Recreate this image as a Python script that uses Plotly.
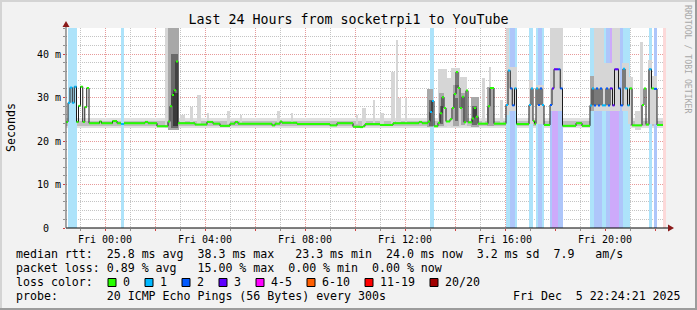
import plotly.graph_objects as go

# ---------------------------------------------------------------- data
title_text = "Last 24 Hours from socketrpi1 to YouTube"
y_axis_title = "Seconds"
watermark = "RRDTOOL / TOBI OETIKER"

x_start, x_end = -1.56, 22.44          # hours relative to Fri 00:00
y_top = 46.0                            # milliseconds

tick_hours = [0, 4, 8, 12, 16, 20]
tick_labels = ["Fri 00:00", "Fri 04:00", "Fri 08:00", "Fri 12:00", "Fri 16:00", "Fri 20:00"]
y_tick_values = [0, 10, 20, 30, 40]
y_tick_labels = [" 0  ", "10 m", "20 m", "30 m", "40 m"]

loss_labels = ["0", "1", "2", "3", "4-5", "6-10", "11-19", "20/20"]
loss_colors = ["#26ff00", "#00b8ff", "#0059ff", "#5e00ff", "#ff00ff", "#ff5e00", "#ff0000", "#a10000"]
band_colors = ["#ffffff", "#ade3fa", "#aec6fa", "#cdaafa", "#fab0fa", "#fac8a8", "#fab0b0", "#fcd9d9"]

# median rtt steps: start hour, median (ms), loss class index
step_start = [-1.56, -1.48, -1.40, -1.31, -1.23, -1.14, -1.06, -0.98, -0.89, -0.81,
              -0.73, -0.64, -0.22, -0.14, 0.30, 0.48, 0.64, 0.76, 1.60, 1.72,
              2.08, 2.52, 2.60, 2.68, 2.76, 2.84, 2.92, 3.60, 4.08, 4.32,
              4.60, 5.00, 5.20, 5.32, 6.68, 6.80, 7.00, 7.08, 7.68, 9.00,
              9.28, 9.92, 10.20, 10.32, 10.40, 11.00, 11.52, 12.56, 12.68, 12.92,
              13.00, 13.08, 13.16, 13.32, 13.40, 13.48, 13.56, 13.64, 13.80, 13.88,
              13.96, 14.04, 14.12, 14.20, 14.28, 14.36, 14.44, 14.52, 14.68, 14.76,
              14.84, 14.92, 15.32, 15.40, 15.56, 16.04, 16.12, 16.21, 16.29, 16.38,
              16.46, 16.96, 17.04, 17.12, 17.18, 17.24, 17.32, 17.40, 17.48, 17.56,
              17.80, 17.88, 17.96, 18.13, 18.21, 18.30, 18.84, 19.08, 19.40, 19.48,
              19.56, 19.64, 19.72, 19.80, 19.88, 20.04, 20.12, 20.20, 20.30, 20.38,
              20.54, 20.62, 20.72, 20.80, 20.90, 20.98, 21.08, 21.48, 21.56, 21.64,
              21.76, 21.86, 21.96, 22.08, 22.32]
step_median = [24.4, 28.8, 32.3, 28.8, 32.5, 24.4, 28.1, 32.5, 24.4, 27.8,
               32.2, 24.1, 24.5, 24.1, 24.6, 24.1, 23.9, 24.1, 24.4, 24.1,
               23.4, 24.5, 28.0, 30.6, 31.7, 38.3, 24.1, 23.8, 24.4, 24.0,
               23.5, 24.0, 24.4, 24.0, 23.6, 24.0, 24.5, 24.2, 23.9, 23.6,
               24.1, 23.3, 23.2, 23.4, 23.9, 23.7, 24.1, 24.4, 24.1, 24.5,
               26.7, 29.2, 23.4, 24.2, 26.4, 30.1, 27.6, 24.5, 25.0, 27.6,
               30.8, 35.9, 32.2, 27.6, 30.2, 24.3, 31.6, 24.3, 25.2, 27.6,
               25.6, 24.0, 28.0, 32.2, 24.0, 28.3, 36.2, 32.1, 28.2, 32.1,
               23.9, 28.3, 32.1, 24.6, 24.0, 32.1, 28.3, 32.1, 28.3, 23.7,
               28.3, 32.1, 36.5, 36.5, 32.1, 23.5, 24.1, 23.5, 28.2, 32.1,
               28.2, 32.1, 28.2, 32.1, 28.2, 32.1, 28.2, 32.1, 28.2, 36.5,
               32.1, 28.2, 36.6, 32.1, 28.2, 32.1, 23.6, 28.3, 32.1, 23.8,
               36.5, 32.1, 32.0, 23.7, None]
step_loss = [0, 1, 1, 1, 1, 0, 0, 0, 0, 0,
             0, 0, 0, 0, 0, 0, 1, 0, 0, 0,
             0, 0, 0, 0, 0, 0, 0, 0, 0, 0,
             0, 0, 0, 0, 0, 0, 0, 0, 0, 0,
             0, 0, 0, 0, 0, 0, 0, 0, 0, 0,
             1, 1, 0, 0, 0, 0, 0, 0, 0, 0,
             0, 0, 0, 0, 0, 0, 0, 0, 0, 0,
             0, 0, 0, 0, 0, 1, 1, 2, 2, 1,
             0, 1, 1, 0, 0, 1, 2, 2, 1, 0,
             2, 3, 3, 2, 2, 0, 0, 0, 1, 1,
             2, 2, 2, 2, 1, 2, 2, 3, 3, 3,
             2, 2, 1, 1, 1, 0, 0, 0, 0, 0,
             1, 0, 2, 0, 7]

# background haze of the ping distribution around the baseline (ms)
haze_outer = (23.0, 25.2)
haze_inner = (23.4, 24.5)

# smoke (spread of the 20 pings): start hour, end hour, low ms, high ms, shade index
smoke_start = [2.40, 2.52, 2.64, 2.72, 3.00, 3.40, 3.68, 4.08, 4.88, 5.40,
               6.88, 7.44, 10.04, 10.28, 10.72, 11.00, 11.44, 11.64, 11.72, 12.00,
               12.88, 12.96, 13.32, 13.36, 13.40, 13.68, 13.84, 13.92, 14.00, 14.20,
               14.24, 14.64, 14.68, 15.08, 15.28, 15.36, 15.80,
               16.04, 16.16, 16.96, 17.24, 17.80, 19.40, 19.56, 19.96, 20.28,
               20.68, 20.92, 21.20, 21.40, 21.72, 21.88]
smoke_end = [2.52, 2.96, 2.92, 2.92, 3.20, 3.52, 3.84, 4.16, 5.00, 5.48,
             7.00, 7.52, 10.12, 10.44, 10.80, 11.16, 11.60, 11.72, 11.84, 12.08,
             13.12, 13.12, 13.68, 13.56, 13.52, 13.84, 14.20, 14.16, 14.12, 14.48,
             14.40, 14.96, 14.88, 15.20, 15.56, 15.44, 15.92,
             16.16, 16.46, 17.12, 17.56, 18.30, 19.56, 19.96, 20.28, 20.60,
             20.96, 21.12, 21.44, 21.52, 21.88, 22.08]
smoke_low = [23.0, 22.5, 23.0, 23.5, 24.0, 24.0, 24.0, 24.0, 24.0, 24.0,
             24.0, 24.0, 24.0, 23.5, 24.0, 24.0, 24.0, 24.0, 24.0, 24.0,
             23.2, 23.5, 23.2, 23.5, 24.0, 23.5, 23.2, 23.5, 24.5, 23.5,
             23.8, 23.2, 23.8, 24.0, 23.5, 24.0, 24.0,
             26.0, 27.0, 24.0, 24.0, 27.0, 27.0, 27.0, 27.0, 27.0,
             27.0, 24.0, 22.5, 24.0, 24.0, 24.0]
smoke_high = [46.0, 46.0, 40.0, 31.0, 26.0, 27.8, 30.6, 26.4, 27.0, 25.9,
              27.0, 26.5, 25.9, 27.6, 29.4, 26.5, 35.9, 43.2, 30.0, 29.9,
              32.0, 29.5, 36.5, 31.0, 28.0, 34.5, 36.8, 33.0, 30.0, 34.7,
              31.0, 30.1, 28.0, 34.6, 32.5, 37.1, 29.4,
              46.0, 37.0, 34.0, 33.0, 46.0, 35.0, 46.0, 38.0, 46.0,
              38.0, 34.8, 27.0, 42.8, 38.6, 35.0]
smoke_shade = [0, 1, 2, 3, 0, 0, 0, 0, 0, 0,
               0, 0, 0, 0, 0, 0, 0, 0, 0, 0,
               1, 2, 0, 1, 2, 0, 0, 1, 2, 0,
               1, 1, 2, 0, 1, 0, 0,
               0, 0, 0, 0, 0, 1, 0, 0, 0,
               0, 0, 0, 0, 0, 0]
shade_colors = ["#d6d6d6", "#a8a8a8", "#6a6a6a", "#3a3a3a"]
haze_colors = ["#e0e0e0", "#bfbfbf"]

stats_lines = [
    "median rtt:  25.8 ms avg  38.3 ms max   23.3 ms min  24.0 ms now  3.2 ms sd  7.9   am/s",
    "packet loss: 0.89 % avg   15.00 % max  0.00 % min  0.00 % now",
    "loss color:",
    "probe:       20 ICMP Echo Pings (56 Bytes) every 300s",
]
date_text = "Fri Dec  5 22:24:21 2025"

# ---------------------------------------------------------------- geometry helpers (layout only)
W, H = 697, 310
PL, PR, PT, PB = 66, 666, 28, 228
MONO = "DejaVu Sans Mono"


def pxx(x):
    return (x - PL) / (PR - PL)


def pyy(y):
    return (PB - y) / (PB - PT)


def nb(s):
    return s.replace(" ", "\u00a0")


step_end = step_start[1:] + [x_end]

fig = go.Figure()


def add_bars(starts, ends, lows, highs, colors):
    fig.add_trace(go.Bar(
        x=[(s + e) / 2 for s, e in zip(starts, ends)],
        width=[e - s for s, e in zip(starts, ends)],
        base=lows,
        y=[h - l for l, h in zip(lows, highs)],
        marker=dict(color=colors, line=dict(width=0)),
        hoverinfo="skip", showlegend=False,
    ))


# baseline haze (below loss bands, as in smokeping)
add_bars([x_start], [x_end], [haze_outer[0]], [haze_outer[1]], [haze_colors[0]])
add_bars([x_start], [x_end], [haze_inner[0]], [haze_inner[1]], [haze_colors[1]])

# loss background bands
b_s, b_e, b_c = [], [], []
for s, e, l in zip(step_start, step_end, step_loss):
    if l > 0:
        b_s.append(s)
        b_e.append(e)
        b_c.append(band_colors[l])
add_bars(b_s, b_e, [0] * len(b_s), [y_top] * len(b_s), b_c)

# smoke, light to dark
for shade in range(len(shade_colors)):
    idx = [i for i, s in enumerate(smoke_shade) if s == shade]
    if idx:
        add_bars([smoke_start[i] for i in idx], [smoke_end[i] for i in idx],
                 [smoke_low[i] for i in idx], [smoke_high[i] for i in idx],
                 [shade_colors[shade]] * len(idx))

# median: dark connecting line
mx, my = [], []
for s, e, v in zip(step_start, step_end, step_median):
    if v is None:
        mx.append(None)
        my.append(None)
        continue
    mx += [s, e]
    my += [v, v]
fig.add_trace(go.Scatter(x=mx, y=my, mode="lines", line=dict(color="#1c1c1c", width=1),
                         hoverinfo="skip", showlegend=False))

# median: loss coloured marks
for k, col in enumerate(loss_colors):
    sx, sy = [], []
    for s, e, v, l in zip(step_start, step_end, step_median, step_loss):
        if l == k and v is not None:
            sx += [s, e, None]
            sy += [v, v, None]
    if sx:
        fig.add_trace(go.Scatter(x=sx, y=sy, mode="lines", line=dict(color=col, width=2),
                                 hoverinfo="skip", showlegend=False))

# ---------------------------------------------------------------- axes
major_vals = list(range(0, 23, 2))
major_text = [tick_labels[tick_hours.index(h)] if h in tick_hours else "" for h in major_vals]

grid_red = "#e79a9a"
grid_gray = "#c4c4c4"

fig.update_layout(
    width=W, height=H,
    margin=dict(l=PL, r=W - PR, t=PT, b=H - PB, pad=0),
    paper_bgcolor="#f2f2f2", plot_bgcolor="#ffffff",
    barmode="overlay", bargap=0, showlegend=False,
    font=dict(family=MONO, size=10, color="#000000"),
    title=dict(text=title_text, x=0.5, xref="container", xanchor="center",
               y=1 - 19 / H, yref="container", yanchor="middle",
               font=dict(family=MONO, size=13.3, color="#000000")),
    xaxis=dict(range=[x_start, x_end], tickmode="array", tickvals=major_vals, ticktext=major_text,
               showgrid=True, gridcolor=grid_red, griddash="1px,1px", gridwidth=1,
               ticks="outside", ticklen=2, tickcolor="#d04040", tickwidth=1,
               tickfont=dict(family=MONO, size=10),
               minor=dict(tickmode="linear", tick0=0, dtick=1, showgrid=True, gridcolor=grid_gray,
                          griddash="1px,1px", gridwidth=1, ticks="outside", ticklen=2,
                          tickcolor="#909090"),
               zeroline=False, showline=False, fixedrange=True),
    yaxis=dict(range=[0, y_top], tickmode="array", tickvals=y_tick_values,
               ticktext=[nb(t) for t in y_tick_labels],
               showgrid=True, gridcolor=grid_red, griddash="1px,1px", gridwidth=1,
               ticks="outside", ticklen=2, tickcolor="#d04040",
               tickfont=dict(family=MONO, size=10),
               minor=dict(tickmode="linear", tick0=0, dtick=2, showgrid=True, gridcolor=grid_gray,
                          griddash="1px,1px", gridwidth=1, ticks="outside", ticklen=2,
                          tickcolor="#909090"),
               zeroline=False, showline=False, fixedrange=True),
)

shapes = []
# axis lines with arrows
shapes.append(dict(type="line", xref="paper", yref="paper", x0=pxx(PL), x1=pxx(669), y0=pyy(PB), y1=pyy(PB),
                   line=dict(color="#000000", width=1)))
shapes.append(dict(type="line", xref="paper", yref="paper", x0=pxx(PL), x1=pxx(PL), y0=pyy(PB), y1=pyy(25),
                   line=dict(color="#505050", width=1)))
shapes.append(dict(type="path", xref="paper", yref="paper",
                   path=f"M {pxx(668)},{pyy(224.5)} L {pxx(674)},{pyy(228)} L {pxx(668)},{pyy(231.5)} Z",
                   fillcolor="#8a1a1a", line=dict(width=0)))
shapes.append(dict(type="path", xref="paper", yref="paper",
                   path=f"M {pxx(62.5)},{pyy(27)} L {pxx(66)},{pyy(21)} L {pxx(69.5)},{pyy(27)} Z",
                   fillcolor="#8a1a1a", line=dict(width=0)))
# image frame
shapes.append(dict(type="rect", xref="paper", yref="paper", x0=pxx(0), x1=pxx(W), y0=pyy(0), y1=pyy(2),
                   fillcolor="#d4d4d4", line=dict(width=0)))
shapes.append(dict(type="rect", xref="paper", yref="paper", x0=pxx(0), x1=pxx(2), y0=pyy(0), y1=pyy(H),
                   fillcolor="#d4d4d4", line=dict(width=0)))
shapes.append(dict(type="rect", xref="paper", yref="paper", x0=pxx(0), x1=pxx(W), y0=pyy(H - 2), y1=pyy(H),
                   fillcolor="#9c9c9c", line=dict(width=0)))
shapes.append(dict(type="rect", xref="paper", yref="paper", x0=pxx(W - 2), x1=pxx(W), y0=pyy(0), y1=pyy(H),
                   fillcolor="#9c9c9c", line=dict(width=0)))

annotations = []
annotations.append(dict(text=y_axis_title, xref="paper", yref="paper", x=pxx(11), y=pyy(128),
                        xanchor="center", yanchor="middle", textangle=-90, showarrow=False,
                        font=dict(family=MONO, size=11.6, color="#000000")))
annotations.append(dict(text=nb(watermark), xref="paper", yref="paper", x=pxx(688), y=pyy(59),
                        xanchor="center", yanchor="middle", textangle=90, showarrow=False,
                        font=dict(family=MONO, size=8.2, color="#a8a8a8")))

line_y = [254, 268, 282, 296]
for txt, yy in zip(stats_lines, line_y):
    annotations.append(dict(text=nb(txt), xref="paper", yref="paper", x=pxx(15), y=pyy(yy),
                            xanchor="left", yanchor="middle", showarrow=False, borderpad=0,
                            font=dict(family=MONO, size=11.6, color="#000000")))
annotations.append(dict(text=nb(date_text), xref="paper", yref="paper", x=pxx(682), y=pyy(296),
                        xanchor="right", yanchor="middle", showarrow=False, borderpad=0,
                        font=dict(family=MONO, size=11.6, color="#000000")))

# loss colour legend
bx = 108
for lab, col in zip(loss_labels, loss_colors):
    shapes.append(dict(type="rect", xref="paper", yref="paper", x0=pxx(bx), x1=pxx(bx + 8),
                       y0=pyy(278.5), y1=pyy(286.5), fillcolor=col, line=dict(color="#000000", width=1)))
    annotations.append(dict(text=nb(lab), xref="paper", yref="paper", x=pxx(bx + 14), y=pyy(282),
                            xanchor="left", yanchor="middle", showarrow=False, borderpad=0,
                            font=dict(family=MONO, size=11.6, color="#000000")))
    bx += 30 + 7 * len(lab)

fig.update_layout(shapes=shapes, annotations=annotations)

fig.write_html("out.html", config={"displayModeBar": False})
